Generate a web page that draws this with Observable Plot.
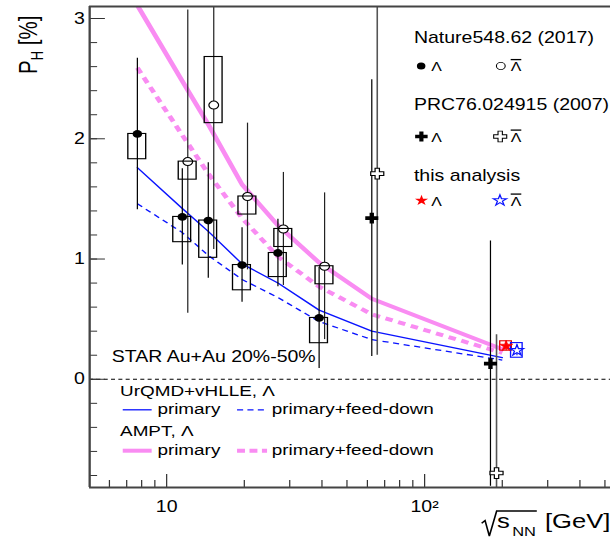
<!DOCTYPE html>
<html>
<head>
<meta charset="utf-8">
<script src="https://cdn.jsdelivr.net/npm/d3@7"></script>
<script src="https://cdn.jsdelivr.net/npm/@observablehq/plot@0.6"></script>
<style>
  html, body { margin: 0; padding: 0; background: #fff; }
  #chart { width: 610px; height: 539px; overflow: hidden; }
</style>
</head>
<body>
<div id="chart"></div>
<script>
// ---------------- data ----------------
// Model curves (Au+Au 20-50%, Λ)
const modelEnergy  = [7.7, 11.5, 14.5, 19.6, 27, 39, 62.4, 200];
const urqmdPrimary = [1.76, 1.42, 1.23, 0.96, 0.80, 0.575, 0.40, 0.18];
const urqmdFeed    = [1.46, 1.22, 1.03, 0.83, 0.68, 0.48, 0.33, 0.16];
const amptPrimary  = [3.11, 2.48, 2.12, 1.62, 1.28, 0.97, 0.67, 0.25];
const amptFeed     = [2.59, 2.03, 1.71, 1.34, 1.02, 0.77, 0.54, 0.22];

// Nature 548, 62 (2017)
const natEnergy        = [7.7, 11.5, 14.5, 19.6, 27, 39];
const natLambda        = [2.04, 1.35, 1.32, 0.95, 1.05, 0.51];
const natLambdaStat    = [0.63, 0.40, 0.48, 0.31, 0.28, 0.42];
const natLambdaSysLow  = [0.21, 0.21, 0.31, 0.21, 0.20, 0.21];
const natLambdaSysHigh = [0, 0, 0, 0, 0, 0];

const natAntiEnergy  = [11.5, 14.5, 19.6, 27, 39];
const natAnti        = [1.81, 2.28, 1.52, 1.25, 0.94];
const natAntiStat    = [1.26, 1.20, 0.61, 0.47, 0.61];
const natAntiSysLow  = [0.15, 0.15, 0.15, 0.15, 0.15];
const natAntiSysHigh = [0, 0.40, 0, 0, 0];
const natAntiOffset  = 1.05;   // anti-Λ drawn slightly right of its energy

// PRC 76, 024915 (2007)
const prcEnergy       = [62.4, 200];
const prcLambda       = [1.34, 0.13];
const prcLambdaStat   = [1.15, 1.02];
const prcLambdaOffset = [1, 0.9];
const prcAnti         = [1.71, -0.78];
const prcAntiStat     = [1.51, 1.15];
const prcAntiOffset   = [1.05, 0.95];

// this analysis, 200 GeV
const thisEnergy     = [200];
const thisLambda     = [0.277];
const thisLambdaStat = [0.040];
const thisLambdaSys  = [0.039];
const thisAnti       = [0.240];
const thisAntiStat   = [0.045];
const thisAntiSys    = [0.061];
const thisOffset     = [1.035, 1.14];

// axes
const xDomain = [5.03, 526];
const yDomain = [-0.9, 3.1];
const xMajor = [10, 100];
const xTickLabels = ["10", "10²"];
const xMinor = [6, 7, 8, 9, 20, 30, 40, 50, 60, 70, 80, 90, 200, 300, 400, 500];
const yMajor = [0, 1, 2, 3];
const yMinor = d3.range(-8, 31, 2).map(v => v / 10);

// ---------------- drawing ----------------
const FONT = "'Liberation Sans', Arial, Helvetica, sans-serif";
const W = 500, H = 539;          // drawing space, stretched horizontally to 610 px
const OUT_W = 610;
const boxHalf = 1.083;           // half-width of systematic boxes (log factor)
const starBox = 1.053;

const pink = "#f98cf2";
const blue = "#0a14ff";

const natL = natEnergy.map((e, i) => ({
  x: e, y: natLambda[i],
  lo: natLambda[i] - natLambdaStat[i], hi: natLambda[i] + natLambdaStat[i],
  sLo: natLambda[i] - natLambdaSysLow[i], sHi: natLambda[i] + natLambdaSysHigh[i]
}));
const natA = natAntiEnergy.map((e, i) => ({
  x: e * natAntiOffset, y: natAnti[i],
  lo: natAnti[i] - natAntiStat[i], hi: natAnti[i] + natAntiStat[i],
  sLo: natAnti[i] - natAntiSysLow[i], sHi: natAnti[i] + natAntiSysHigh[i]
}));
const prcL = prcEnergy.map((e, i) => ({
  x: e * prcLambdaOffset[i], y: prcLambda[i],
  lo: prcLambda[i] - prcLambdaStat[i], hi: prcLambda[i] + prcLambdaStat[i]
}));
const prcA = prcEnergy.map((e, i) => ({
  x: e * prcAntiOffset[i], y: prcAnti[i],
  lo: prcAnti[i] - prcAntiStat[i], hi: prcAnti[i] + prcAntiStat[i]
}));
const thisL = thisEnergy.map((e, i) => ({
  x: e * thisOffset[0], y: thisLambda[i],
  lo: thisLambda[i] - thisLambdaStat[i], hi: thisLambda[i] + thisLambdaStat[i],
  sLo: thisLambda[i] - thisLambdaSys[i], sHi: thisLambda[i] + thisLambdaSys[i]
}));
const thisA = thisEnergy.map((e, i) => ({
  x: e * thisOffset[1], y: thisAnti[i],
  lo: thisAnti[i] - thisAntiStat[i], hi: thisAnti[i] + thisAntiStat[i],
  sLo: thisAnti[i] - thisAntiSys[i], sHi: thisAnti[i] + thisAntiSys[i]
}));

const errBars = (data, stroke, w = 1) =>
  Plot.ruleX(data, {x: "x", y1: "lo", y2: "hi", stroke, strokeWidth: w, clip: true});
const sysBoxes = (data, stroke, f = boxHalf) =>
  Plot.rect(data, {x1: d => d.x / f, x2: d => d.x * f, y1: "sLo", y2: "sHi",
                   fill: "none", stroke, strokeWidth: 1.1, clip: true});

const chart = Plot.plot({
  width: W, height: H,
  marginLeft: 73, marginRight: 0, marginTop: 6, marginBottom: 52,
  x: {type: "log", domain: xDomain, label: null},
  y: {domain: yDomain, label: null},
  style: {fontFamily: FONT, fontSize: "16px", color: "#000", background: "#fff", overflow: "visible"},
  marks: [
    // zero line
    Plot.ruleY([0], {stroke: "#000", strokeWidth: 1, strokeDasharray: "3.3,2.7"}),

    // model curves
    Plot.line(modelEnergy, {x: modelEnergy, y: amptPrimary, stroke: pink, strokeWidth: 4, clip: true}),
    Plot.line(modelEnergy, {x: modelEnergy, y: amptFeed, stroke: pink, strokeWidth: 4,
                            strokeDasharray: "6.2,4.8", strokeLinecap: "butt", clip: true}),
    Plot.line(modelEnergy, {x: modelEnergy, y: urqmdPrimary, stroke: blue, strokeWidth: 1.3, clip: true}),
    Plot.line(modelEnergy, {x: modelEnergy, y: urqmdFeed, stroke: blue, strokeWidth: 1.3,
                            strokeDasharray: "5,3.8", strokeLinecap: "butt", clip: true}),

    // statistical errors
    errBars(natL, "#000"),
    errBars(natA, "#222"),
    errBars(prcL, "#000"),
    errBars(prcA, "#555", 1.3),
    errBars(thisL, "#e00000"),
    errBars(thisA, blue),

    // open markers (hollow interior covers the error line)
    Plot.dot(natA, {x: "x", y: "y", r: 4, fill: "#fff", stroke: "#000", strokeWidth: 1, clip: true}),
    Plot.dot(prcA, {x: "x", y: "y", symbol: "cross", r: 4.5, fill: "#fff", stroke: "#000", strokeWidth: 1, clip: true}),

    // systematic boxes
    sysBoxes(natL, "#000"),
    sysBoxes(natA, "#000"),
    sysBoxes(thisL, "#e00000", starBox),
    sysBoxes(thisA, blue, starBox),

    // filled markers
    Plot.dot(natL, {x: "x", y: "y", r: 3.9, fill: "#000", stroke: "none", clip: true}),
    Plot.dot(prcL, {x: "x", y: "y", symbol: "cross", r: 4.5, fill: "#000", stroke: "none", clip: true}),
    Plot.dot(thisL, {x: "x", y: "y", symbol: "star", r: 3.4, fill: "#ff0000", stroke: "#ff0000", strokeWidth: 0.6}),
    Plot.dot(thisA, {x: "x", y: "y", symbol: "star", r: 3.4, fill: "#fff", stroke: blue, strokeWidth: 1.1}),

    // axes (ticks point inward)
    Plot.axisY(yMinor, {anchor: "left", tickSize: -6.6, tickFormat: () => "", label: null, stroke: "#333"}),
    Plot.axisY(yMajor, {anchor: "left", tickSize: -13, tickFormat: () => "", label: null, stroke: "#333"}),
    Plot.axisY(yMajor, {anchor: "left", tickSize: 0, tickPadding: 4, label: null, tickFormat: d => String(d), fontSize: 16}),
    Plot.axisX(xMinor, {anchor: "bottom", tickSize: -7, tickFormat: () => "", label: null, stroke: "#333"}),
    Plot.axisX(xMajor, {anchor: "bottom", tickSize: -13, tickFormat: () => "", label: null, stroke: "#333"}),
    Plot.axisX(xMajor, {anchor: "bottom", tickSize: 0, tickPadding: 13, label: null,
                        tickFormat: d => xTickLabels[xMajor.indexOf(d)], fontSize: 16}),

    // frame: left, top, bottom
    Plot.ruleX([xDomain[0]], {stroke: "#444", strokeWidth: 1.9}),
    Plot.ruleY(yDomain, {stroke: "#444", strokeWidth: 2})
  ]
});

// ---------- titles and legends ----------
const svg = d3.select(chart);
const sym = (type, r) => d3.symbol(type, r * r * Math.PI)();

const addText = (g, x, y, size, str) =>
  g.append("text").attr("x", x).attr("y", y).attr("font-size", size)
   .attr("font-family", FONT).attr("text-anchor", "start").attr("fill", "#000").text(str);

// y title
const yt = svg.append("text")
  .attr("transform", "translate(30.5,74) rotate(-90)")
  .attr("text-anchor", "start")
  .attr("font-family", FONT).attr("font-size", 20.5).attr("fill", "#000");
yt.append("tspan").text("P");
yt.append("tspan").attr("font-size", 13).attr("dy", 5).text("H");
yt.append("tspan").attr("dy", -5).text(" [%]");

// x title with radical sign
svg.append("path")
  .attr("d", "M394.8,523.3 L397.6,520.5 L401.1,536 L407.1,511 L440,511")
  .attr("fill", "none").attr("stroke", "#000").attr("stroke-width", 1.3);
const xt = svg.append("text").attr("font-family", FONT).attr("text-anchor", "start").attr("fill", "#000");
xt.append("tspan").attr("x", 407.4).attr("y", 528).attr("font-size", 21).text("s");
xt.append("tspan").attr("x", 419.8).attr("y", 536).attr("font-size", 13.5).text("NN");
xt.append("tspan").attr("x", 446.7).attr("y", 528).attr("font-size", 21).text("[GeV]");

// data legend, top right
const lg = svg.append("g");
addText(lg, 339.3, 43.3, 16, "Nature548.62 (2017)");
addText(lg, 339.3, 110, 16, "PRC76.024915 (2007)");
addText(lg, 339.3, 181, 16, "this analysis");

const lamRows = [66, 136.5, 200.5];
lg.append("path").attr("d", sym(d3.symbolCircle, 3.5)).attr("transform", `translate(345.2,${lamRows[0]})`).attr("fill", "#000");
lg.append("path").attr("d", sym(d3.symbolCircle, 3.6)).attr("transform", `translate(410.5,${lamRows[0]})`).attr("fill", "#fff").attr("stroke", "#000").attr("stroke-width", 0.9);
lg.append("path").attr("d", sym(d3.symbolCross, 4.3)).attr("transform", `translate(345.4,${lamRows[1]})`).attr("fill", "#000");
lg.append("path").attr("d", sym(d3.symbolCross, 4.5)).attr("transform", `translate(410,${lamRows[1]})`).attr("fill", "#fff").attr("stroke", "#000").attr("stroke-width", 0.9);
lg.append("path").attr("d", sym(d3.symbolStar, 3.4)).attr("transform", `translate(345.5,${lamRows[2]})`).attr("fill", "#ff0000");
lg.append("path").attr("d", sym(d3.symbolStar, 3.4)).attr("transform", `translate(409.8,${lamRows[2]})`).attr("fill", "#fff").attr("stroke", blue).attr("stroke-width", 1.1);
for (const ry of lamRows) {
  addText(lg, 353.5, ry + 5.5, 13, "Λ");
  addText(lg, 418.6, ry + 5.5, 13, "Λ").style("text-decoration", "overline");
}

// model legend, lower left
const ml = svg.append("g");
addText(ml, 91.6, 362, 16, "STAR Au+Au 20%-50%");
addText(ml, 98.4, 396, 15.5, "UrQMD+vHLLE, Λ");
addText(ml, 98.4, 436, 15.5, "AMPT, Λ");
const rows = [
  {y: 409.8, color: blue, w: 1.3, dash: "5,3.5"},
  {y: 450.7, color: pink, w: 4, dash: "6.5,3.7"}
];
for (const r of rows) {
  ml.append("line").attr("x1", 100.6).attr("x2", 124.3).attr("y1", r.y).attr("y2", r.y)
    .attr("stroke", r.color).attr("stroke-width", r.w);
  ml.append("line").attr("x1", 194.3).attr("x2", 218.9).attr("y1", r.y).attr("y2", r.y)
    .attr("stroke", r.color).attr("stroke-width", r.w).attr("stroke-dasharray", r.dash);
  addText(ml, 129, r.y + 4, 15.5, "primary");
  addText(ml, 222.7, r.y + 4, 15.5, "primary+feed-down");
}

// stretch the drawing horizontally to the output width
chart.setAttribute("viewBox", `0 0 ${W} ${H}`);
chart.setAttribute("width", OUT_W);
chart.setAttribute("height", H);
chart.setAttribute("preserveAspectRatio", "none");
chart.style.maxWidth = "none";
chart.style.width = OUT_W + "px";
chart.style.height = H + "px";

document.getElementById("chart").appendChild(chart);
</script>
</body>
</html>
